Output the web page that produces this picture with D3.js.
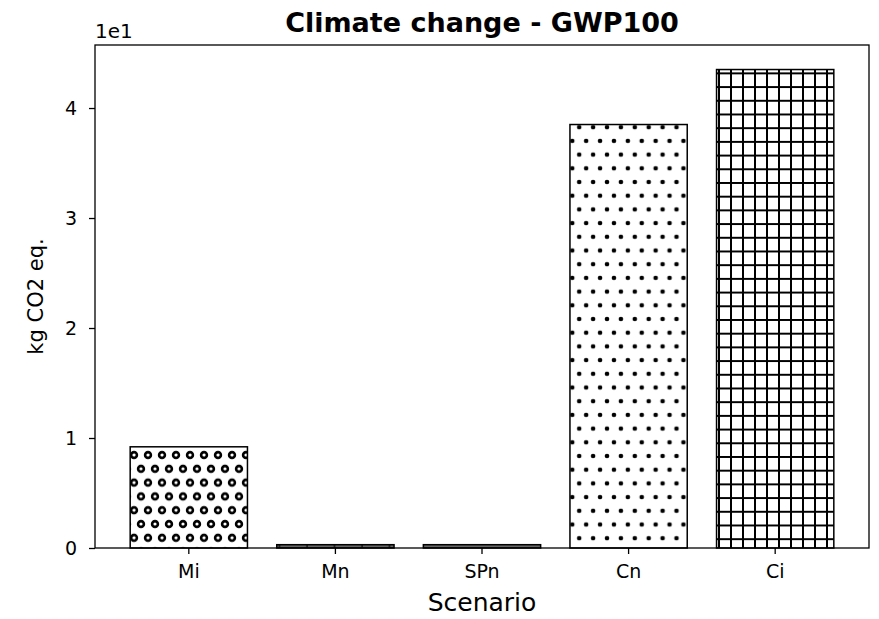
<!DOCTYPE html>
<html>
<head>
<meta charset="utf-8">
<script src="https://cdn.jsdelivr.net/npm/d3@7"></script>
<style>
  body { margin: 0; background: #fff; }
  text { font-family: "DejaVu Sans", sans-serif; fill: #000; }
</style>
</head>
<body>
<div class="chart"></div>
<script>

// Chart data
var scenarios = ["Mi", "Mn", "SPn", "Cn", "Ci"];
var gwpValues = [9.2, 0.3, 0.3, 38.5, 43.5];
var hatches = ["rings", "ticks", "none", "dots", "grid"];
var yTicks = [0, 10, 20, 30, 40];

// Dimensions and settings
var w = 879;
var h = 619;
var margin = {top: 45, right: 10, bottom: 71, left: 95};
var plotWidth = w - margin.left - margin.right;
var plotHeight = h - margin.top - margin.bottom;

var svg = d3.select(".chart")
  .append("svg")
  .attr("width", w)
  .attr("height", h);

// Hatch patterns, anchored to the page like matplotlib does
var defs = svg.append("defs");

function makePattern(id, pw, ph) {
    return defs.append("pattern")
      .attr("id", id)
      .attr("patternUnits", "userSpaceOnUse")
      .attr("x", margin.left)
      .attr("y", margin.top + plotHeight)
      .attr("width", pw)
      .attr("height", ph);
}

// Small rings, staggered rows
var rings = makePattern("rings", 14, 27.6);
[[0, 0], [14, 0], [7, 13.8], [0, 27.6], [14, 27.6]].forEach(function(p) {
    rings.append("circle")
      .attr("cx", p[0]).attr("cy", p[1]).attr("r", 2.9)
      .attr("fill", "none").attr("stroke", "#000").attr("stroke-width", 2.6);
});

// Dots, staggered rows
var dots = makePattern("dots", 13.9, 27.4);
[[0, 0], [13.9, 0], [6.95, 13.7], [0, 27.4], [13.9, 27.4]].forEach(function(p) {
    dots.append("circle")
      .attr("cx", p[0]).attr("cy", p[1]).attr("r", 2.3)
      .attr("fill", "#000");
});

// Square grid
var grid = makePattern("grid", 12, 13.7);
grid.append("path")
  .attr("d", "M1,0V13.7M0,1H12")
  .attr("stroke", "#000").attr("stroke-width", 2);

// Vertical ticks for the tiny bar
var ticks = makePattern("ticks", 27.5, 10);
ticks.append("rect").attr("width", 27.5).attr("height", 10).attr("fill", "#666");
ticks.append("path")
  .attr("d", "M7,0V10")
  .attr("stroke", "#000").attr("stroke-width", 1.2);

var g = svg.append("g")
  .attr("transform", "translate(" + margin.left + "," + margin.top + ")");

// Scales
var x = d3.scaleBand()
  .domain(scenarios)
  .range([0, plotWidth])
  .paddingInner(0.2)
  .paddingOuter(0.24);

var y = d3.scaleLinear()
  .domain([0, 45.73])
  .range([plotHeight, 0]);

// Bars
g.selectAll(".bar")
  .data(scenarios)
  .enter()
  .append("rect")
  .attr("class", "bar")
  .attr("x", function(d) { return x(d); })
  .attr("width", x.bandwidth())
  .attr("y", function(d, i) { return y(gwpValues[i]); })
  .attr("height", function(d, i) { return plotHeight - y(gwpValues[i]); })
  .attr("fill", function(d, i) {
      return hatches[i] === "none" ? "#666" : "url(#" + hatches[i] + ")";
  })
  .attr("stroke", "#000")
  .attr("stroke-width", 1.5);

// Axes
var xAxis = g.append("g")
  .attr("transform", "translate(0," + plotHeight + ")")
  .call(d3.axisBottom(x).tickSize(6).tickSizeOuter(0).tickPadding(11));

var yAxis = g.append("g")
  .call(d3.axisLeft(y).tickValues(yTicks).tickSize(6).tickSizeOuter(0).tickPadding(12)
    .tickFormat(function(d) { return d / 10; }));

[xAxis, yAxis].forEach(function(a) {
    a.select(".domain").remove();
    a.selectAll("line").attr("stroke", "#000").attr("stroke-width", 1.3);
    a.selectAll("text").style("font-size", "19px").attr("fill", "#000");
});

// Frame
g.append("rect")
  .attr("width", plotWidth)
  .attr("height", plotHeight)
  .attr("fill", "none")
  .attr("stroke", "#000")
  .attr("stroke-width", 1.3);

// Offset text for the y axis
g.append("text")
  .attr("x", 0)
  .attr("y", -7)
  .style("font-size", "20px")
  .text("1e1");

// Title and labels
g.append("text")
  .attr("x", plotWidth / 2)
  .attr("y", -13)
  .attr("text-anchor", "middle")
  .style("font-size", "27px")
  .style("font-weight", "bold")
  .text("Climate change - GWP100");

g.append("text")
  .attr("x", plotWidth / 2)
  .attr("y", plotHeight + 63)
  .attr("text-anchor", "middle")
  .style("font-size", "25px")
  .text("Scenario");

g.append("text")
  .attr("transform", "translate(-52," + (plotHeight / 2) + ") rotate(-90)")
  .attr("text-anchor", "middle")
  .style("font-size", "21px")
  .text("kg CO2 eq.");

</script>
</body>
</html>
